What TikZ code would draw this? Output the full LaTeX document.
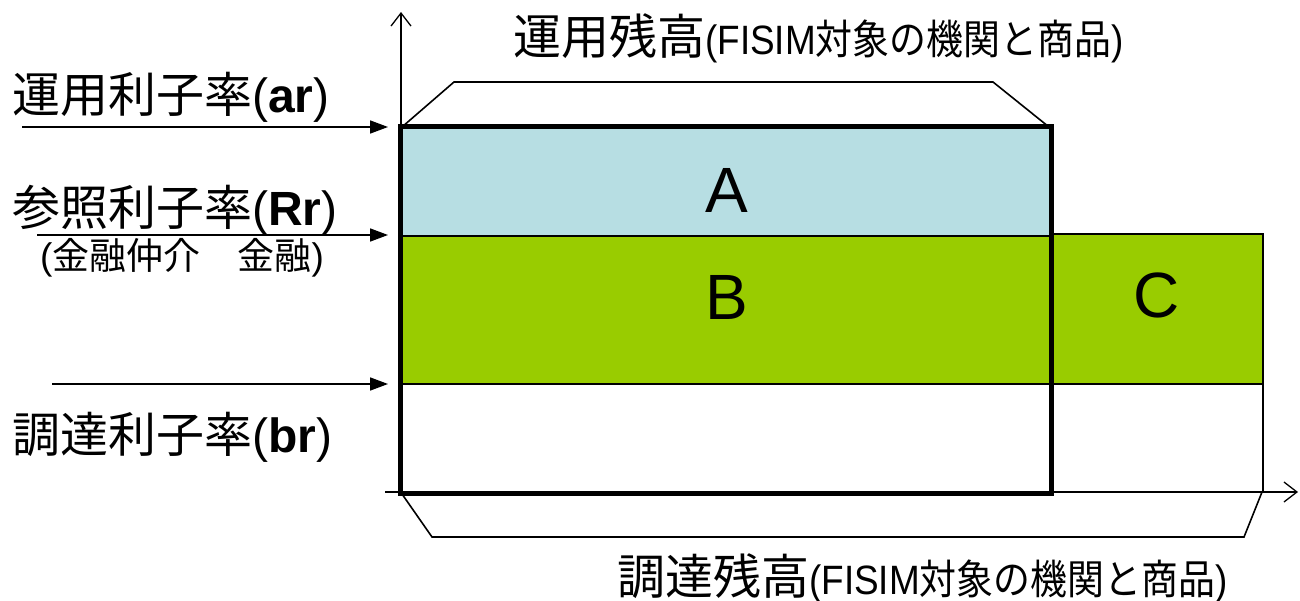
\documentclass[tikz,border=0pt]{standalone}
\usepackage{fontspec}
\setmainfont{Liberation Sans}
\newfontfamily\cjk{Noto Sans CJK JP}
\usetikzlibrary{arrows.meta}
\definecolor{lblue}{HTML}{B7DEE3}
\definecolor{lgreen}{HTML}{99CC00}
\tikzset{
  biglbl/.style={font=\fontsize{48}{52}\selectfont, inner sep=0pt, anchor=west},
  smalllbl/.style={font=\fontsize{37}{40}\selectfont, inner sep=0pt, anchor=west},
  letter/.style={font=\fontsize{64}{70}\selectfont, inner sep=0pt},
  rate/.style={line width=1.6pt, -{Triangle[length=18pt,width=13pt]}},
  axis/.style={line width=1.3pt, -{Straight Barb[length=13pt,width=20pt,line width=1.3pt]}},
  thinline/.style={line width=1.6pt},
  bracket/.style={line width=1.6pt, line join=miter},
}
\newcommand{\condensed}[1]{\scalebox{0.9}[1]{#1}}
\begin{document}
\begin{tikzpicture}[x=1pt,y=-1pt]
\useasboundingbox (0,0) rectangle (1300,601);
% fills
\fill[lblue] (400,127) rectangle (1051,236);
\fill[lgreen] (400,236) rectangle (1051,384);
\filldraw[fill=lgreen, draw=black, thinline] (1051,234) rectangle (1263,384);
\draw[thinline] (1051,384) rectangle (1263,492);
\draw[thinline] (400,236) -- (1051,236);
\draw[thinline] (400,384) -- (1051,384);
% axes
\coordinate (yb) at (401,492);
\coordinate (yt) at (401,12);
\coordinate (xl) at (385,492);
\coordinate (xr) at (1298,492);
\draw[axis] (yb) -- (yt);
\draw[axis] (xl) -- (xr);
% main thick box
\draw[line width=5pt] (400,127) rectangle (1051,493);
% brackets
\coordinate (t1) at (402,127);
\coordinate (t2) at (454,82);
\coordinate (t3) at (993,82);
\coordinate (t4) at (1049,127);
\draw[bracket] (t1) -- (t2) -- (t3) -- (t4);
\coordinate (b1) at (402,494);
\coordinate (b2) at (432,537);
\coordinate (b3) at (1244,537);
\coordinate (b4) at (1262,492);
\draw[bracket] (b1) -- (b2) -- (b3) -- (b4);
% rate arrows
\coordinate (r1s) at (22,127);  \coordinate (r1e) at (388,127);
\coordinate (r2s) at (37,235);  \coordinate (r2e) at (388,235);
\coordinate (r3s) at (52,384);  \coordinate (r3e) at (388,384);
\draw[rate] (r1s) -- (r1e);
\draw[rate] (r2s) -- (r2e);
\draw[rate] (r3s) -- (r3e);
% labels
\node[biglbl] (ar) at (12,97) {{\cjk 運用利子率}(\textbf{ar})};
\node[biglbl] (rr) at (12,210) {{\cjk 参照利子率}(\textbf{Rr})};
\node[smalllbl] (kin) at (40,258) {({\cjk 金融仲介　金融})};
\node[biglbl] (br) at (12,437) {{\cjk 調達利子率}(\textbf{br})};
\node[biglbl] (top) at (513,38) {{\cjk 運用残高}\condensed{\fontsize{41}{44}\selectfont (FISIM{\cjk 対象の機関と商品})}};
\node[biglbl] (bot) at (617,578) {{\cjk 調達残高}\condensed{\fontsize{41}{44}\selectfont (FISIM{\cjk 対象の機関と商品})}};
\node[letter] (A) at (727,190) {A};
\node[letter] (B) at (727,297) {B};
\node[letter] (C) at (1157,295) {C};
\end{tikzpicture}
\end{document}
